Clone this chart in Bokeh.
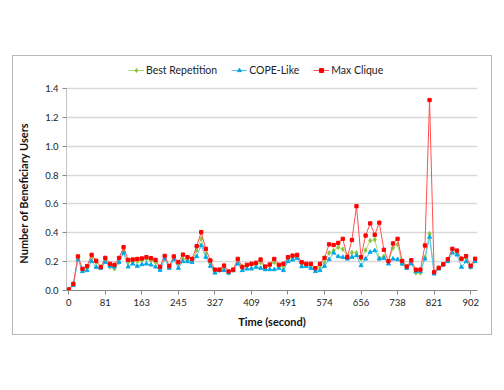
from bokeh.plotting import figure
from bokeh.models import FixedTicker, Legend, LegendItem, Range1d, ColumnDataSource
from bokeh.embed import file_html
from bokeh.resources import INLINE

tick_labels = ["0", "81", "163", "245", "327", "409", "491", "574", "656", "738", "821", "902"]
y_ticks = [0.0, 0.2, 0.4, 0.6, 0.8, 1.0, 1.2, 1.4]

best_repetition = [
    0.007, 0.040, 0.224, 0.139, 0.155, 0.231, 0.196, 0.164, 0.206, 0.164,
    0.150, 0.196, 0.270, 0.196, 0.200, 0.203, 0.210, 0.219, 0.210, 0.196,
    0.155, 0.219, 0.169, 0.219, 0.185, 0.219, 0.208, 0.208, 0.277, 0.358,
    0.254, 0.185, 0.132, 0.139, 0.155, 0.122, 0.139, 0.208, 0.169, 0.169,
    0.178, 0.178, 0.196, 0.155, 0.173, 0.196, 0.169, 0.162, 0.215, 0.224,
    0.231, 0.185, 0.173, 0.173, 0.145, 0.162, 0.196, 0.260, 0.277, 0.300,
    0.286, 0.240, 0.263, 0.261, 0.220, 0.280, 0.345, 0.353, 0.224, 0.236,
    0.200, 0.295, 0.320, 0.185, 0.166, 0.196, 0.122, 0.122, 0.231, 0.393,
    0.127, 0.157, 0.178, 0.208, 0.284, 0.261, 0.219, 0.224, 0.162, 0.208,
]
cope_like = [
    0.007, 0.035, 0.215, 0.132, 0.139, 0.203, 0.162, 0.155, 0.196, 0.169,
    0.164, 0.196, 0.260, 0.164, 0.185, 0.169, 0.180, 0.185, 0.178, 0.164,
    0.141, 0.219, 0.155, 0.215, 0.155, 0.201, 0.201, 0.196, 0.236, 0.312,
    0.231, 0.169, 0.122, 0.139, 0.139, 0.122, 0.139, 0.185, 0.139, 0.150,
    0.150, 0.162, 0.155, 0.145, 0.145, 0.145, 0.155, 0.139, 0.201, 0.212,
    0.224, 0.166, 0.169, 0.155, 0.132, 0.139, 0.169, 0.215, 0.261, 0.236,
    0.231, 0.219, 0.231, 0.242, 0.173, 0.219, 0.266, 0.277, 0.219, 0.224,
    0.185, 0.219, 0.215, 0.185, 0.155, 0.185, 0.132, 0.132, 0.219, 0.370,
    0.115, 0.150, 0.178, 0.201, 0.261, 0.247, 0.162, 0.201, 0.162, 0.201,
]
max_clique = [
    0.007, 0.046, 0.236, 0.150, 0.169, 0.247, 0.206, 0.162, 0.226, 0.185,
    0.178, 0.226, 0.300, 0.212, 0.215, 0.219, 0.222, 0.231, 0.224, 0.212,
    0.164, 0.240, 0.169, 0.236, 0.196, 0.249, 0.231, 0.219, 0.307, 0.404,
    0.289, 0.208, 0.145, 0.145, 0.173, 0.132, 0.145, 0.219, 0.162, 0.178,
    0.185, 0.192, 0.215, 0.166, 0.180, 0.219, 0.178, 0.185, 0.231, 0.242,
    0.247, 0.196, 0.185, 0.185, 0.155, 0.185, 0.226, 0.320, 0.315, 0.330,
    0.358, 0.231, 0.350, 0.584, 0.231, 0.381, 0.465, 0.386, 0.470, 0.282,
    0.203, 0.326, 0.358, 0.205, 0.166, 0.210, 0.144, 0.145, 0.312, 1.320,
    0.127, 0.157, 0.182, 0.217, 0.289, 0.277, 0.220, 0.238, 0.172, 0.220,
]

n = len(max_clique)
idx = list(range(n))
label_every = 8
tick_pos = [i * label_every for i in range(len(tick_labels))]
y_max = y_ticks[-1]

FONT = "Lato"
W, H = 480, 280
BL, BR, BT, BB = 54, 15, 3, 45
FH = H - BT - BB

# frame extends above 1.4 so that the legend can sit inside it
p = figure(width=W, height=H, output_backend="svg", toolbar_location=None,
           x_range=Range1d(-0.5, n - 0.5), y_range=Range1d(0, y_max * FH / 202),
           min_border_left=BL, min_border_right=BR, min_border_top=BT, min_border_bottom=BB)
p.margin = (55, 0, 0, 12)
p.outline_line_color = None
p.background_fill_color = "white"
p.border_fill_color = None
p.styles = {"outline": "1px solid #b8b8b8", "outline-offset": "-1px"}

src = ColumnDataSource(dict(x=idx, g=best_repetition, b=cope_like, r=max_clique))

lg = p.line("x", "g", source=src, line_color="#A6D978", line_width=1)
mg = p.scatter("x", "g", source=src, marker="diamond", size=4.5, fill_color="#8CC63F", line_color="#8CC63F")
lb = p.line("x", "b", source=src, line_color="#52C7F0", line_width=1)
mb = p.scatter("x", "b", source=src, marker="triangle", size=4, fill_color="#00A8E8", line_color="#00A8E8")
lr = p.line("x", "r", source=src, line_color="#FF5050", line_width=1)
mr = p.scatter("x", "r", source=src, marker="square", size=3.3, fill_color="#FF0000", line_color="#FF0000")

# y axis line only up to the last tick
p.segment(x0=[-0.5], y0=[0], x1=[-0.5], y1=[y_max], line_color="#868686", line_width=1)

legend = Legend(items=[
    LegendItem(label="Best Repetition", renderers=[lg, mg]),
    LegendItem(label="COPE-Like", renderers=[lb, mb]),
    LegendItem(label="Max Clique", renderers=[lr, mr]),
], orientation="horizontal", location=(62, 214))
legend.border_line_color = None
legend.background_fill_alpha = 0
legend.label_text_font = FONT
legend.label_text_font_size = "10.5px"
legend.label_text_color = "#222222"
legend.glyph_width = 16
legend.glyph_height = 10
legend.label_standoff = 2
legend.spacing = 14
legend.padding = 2
legend.margin = 0
p.add_layout(legend, "center")

p.xaxis.ticker = FixedTicker(ticks=tick_pos)
p.xaxis.major_label_overrides = {t: l for t, l in zip(tick_pos, tick_labels)}
p.xaxis.minor_tick_line_color = None
p.xaxis.major_tick_in = 0
p.xaxis.major_tick_out = 4
p.xaxis.axis_label = "Time (second)"
# trailing no-break spaces centre the title on the 0..1.4 span
p.yaxis.axis_label = "Number of Beneficiary Users" + "\u00a0" * 14
p.yaxis.ticker = FixedTicker(ticks=y_ticks)
p.yaxis.major_label_overrides = {t: f"{t:.1f}" for t in y_ticks}
p.yaxis.minor_tick_line_color = None
p.yaxis.major_tick_in = 0
p.yaxis.major_tick_out = 4

for ax in (p.xaxis, p.yaxis):
    ax.axis_line_color = "#868686"
    ax.major_tick_line_color = "#868686"
    ax.major_label_text_font = FONT
    ax.major_label_text_font_size = "9.5px"
    ax.major_label_text_color = "#222222"
    ax.axis_label_text_font = FONT
    ax.axis_label_text_font_size = "11px"
    ax.axis_label_text_font_style = "bold"
    ax.axis_label_text_color = "#111111"
    ax.major_label_standoff = 4
p.yaxis.axis_line_color = None
p.xaxis.axis_label_standoff = 6
p.yaxis.axis_label_standoff = 12

p.xgrid.grid_line_color = None
p.ygrid.grid_line_color = "#D9D9D9"
p.ygrid.grid_line_width = 1.3

open("out.html", "w").write(file_html(p, INLINE))
